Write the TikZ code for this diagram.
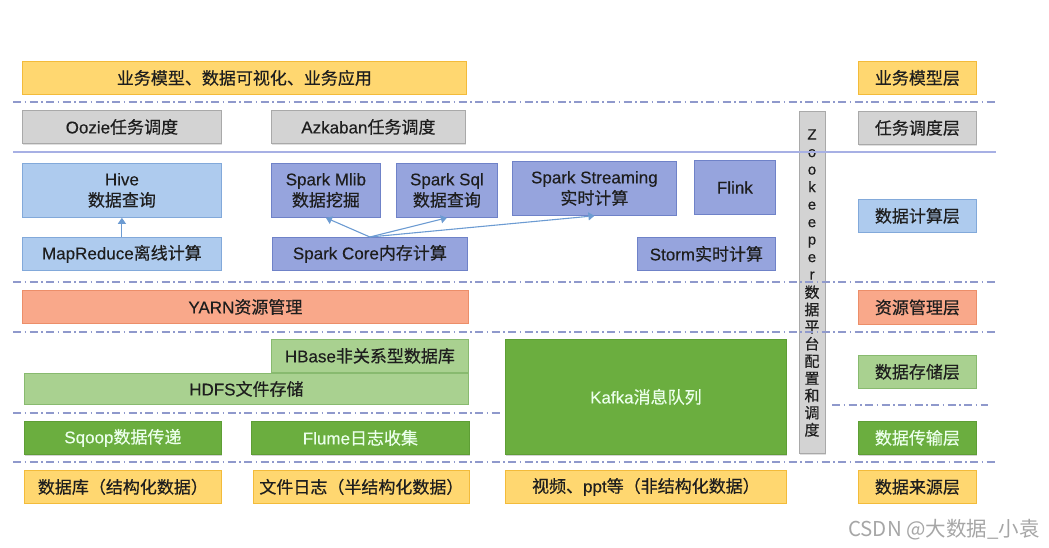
\documentclass[tikz,border=0pt]{standalone}
\usepackage{fontspec}
\setmainfont{Noto Sans CJK SC}[FakeBold=0.5]
\newfontfamily\lat{Liberation Sans}[FakeBold=0.3]
\newfontfamily\wmfont{Noto Sans CJK SC}
\usetikzlibrary{shadows,arrows.meta}
\definecolor{yelfill}{HTML}{FFD770}
\definecolor{yeldraw}{HTML}{F3BB3A}
\definecolor{grfill}{HTML}{D3D3D3}
\definecolor{grdraw}{HTML}{A9A9A9}
\definecolor{lbfill}{HTML}{AECBEE}
\definecolor{lbdraw}{HTML}{82A9DA}
\definecolor{pufill}{HTML}{96A4DD}
\definecolor{pudraw}{HTML}{6F82C8}
\definecolor{orfill}{HTML}{F9A88A}
\definecolor{ordraw}{HTML}{EC8E69}
\definecolor{lgfill}{HTML}{A9D190}
\definecolor{lgdraw}{HTML}{88BA6F}
\definecolor{dgfill}{HTML}{6BAE3F}
\definecolor{dgdraw}{HTML}{5E9E35}
\definecolor{dashc}{HTML}{8F99CC}
\definecolor{solidc}{HTML}{A7B0E4}
\definecolor{arrc}{HTML}{6C9BD2}
\definecolor{txt}{HTML}{1E1E1E}
\begin{document}
\begin{tikzpicture}[x=1pt,y=-1pt,
  box/.style={draw, line width=0.8pt, inner sep=0pt, anchor=north west, align=center,
    text=txt, font=\fontsize{17}{21}\selectfont},
  sz/.style 2 args={minimum width=#1, minimum height=#2},
  yel/.style={box, fill=yelfill, draw=yeldraw},
  gry/.style={box, fill=grfill, draw=grdraw, drop shadow={shadow xshift=0.8pt, shadow yshift=-1.2pt, opacity=0.25}},
  lblue/.style={box, fill=lbfill, draw=lbdraw},
  purp/.style={box, fill=pufill, draw=pudraw},
  oran/.style={box, fill=orfill, draw=ordraw},
  lgrn/.style={box, fill=lgfill, draw=lgdraw},
  dgrn/.style={box, fill=dgfill, draw=dgdraw, text=white!92!green,
    drop shadow={shadow xshift=1pt, shadow yshift=-2pt, opacity=0.35}},
  sepline/.style={draw=dashc, line width=1.3pt, dash pattern=on 8pt off 3.5pt on 1.5pt off 3.5pt},
  conn/.style={draw=arrc, line width=1.1pt, -{Triangle[width=8pt,length=6pt]}}
]
\useasboundingbox (0,0) rectangle (1049,547);

% row 1
\node[yel, sz={444}{33}] (biz) at (22,61) {业务模型、数据可视化、业务应用};
\node[yel, sz={118}{33}] (l1) at (858,61) {业务模型层};
% row 2
\node[gry, sz={199}{33}] (oozie) at (22,110) {{\lat Oozie}任务调度};
\node[gry, sz={194}{33}] (azk) at (271,110) {{\lat Azkaban}任务调度};
\node[gry, sz={118}{33}] (l2) at (858,111) {任务调度层};
% row 3
\node[lblue, sz={199}{54}] (hive) at (22,163) {{\lat Hive}\\数据查询};
\node[lblue, sz={199}{33}] (mr) at (22,237) {{\lat MapReduce}离线计算};
\node[purp, sz={109}{54}] (mlib) at (271,163) {{\lat Spark Mlib}\\数据挖掘};
\node[purp, sz={101}{54}] (sql) at (396,163) {{\lat Spark Sql}\\数据查询};
\node[purp, sz={164}{54}] (stream) at (512,161) {{\lat Spark Streaming}\\实时计算};
\node[purp, sz={81}{54}] (flink) at (694,160) {{\lat Flink}};
\node[purp, sz={195}{33}] (spcore) at (272,237) {{\lat Spark Core}内存计算};
\node[purp, sz={138}{33}] (storm) at (637,237) {{\lat Storm}实时计算};
\node[lblue, sz={118}{33}] (l3) at (858,199) {数据计算层};
% row 4
\node[oran, sz={446}{33}] (yarn) at (22,290) {{\lat YARN}资源管理};
\node[oran, sz={118}{34}] (l4) at (858,290) {资源管理层};
% row 5
\node[lgrn, sz={197}{33}] (hbase) at (271,339) {{\lat HBase}非关系型数据库};
\node[lgrn, sz={444}{31}] (hdfs) at (24,373) {{\lat HDFS}文件存储};
\node[lgrn, sz={118}{33}] (l5) at (858,355) {数据存储层};
% row 6
\node[dgrn, sz={197}{33}] (sqoop) at (24,421) {{\lat Sqoop}数据传递};
\node[dgrn, sz={218}{33}] (flume) at (251,421) {{\lat Flume}日志收集};
\node[dgrn, sz={118}{33}] (l6) at (858,421) {数据传输层};
% row 7
\node[yel, sz={197}{33}] (db) at (24,470) {数据库（结构化数据）};
\node[yel, sz={216}{33}] (logs) at (253,470) {文件日志（半结构化数据）};
\node[yel, sz={281}{33}] (video) at (505,470) {视频、{\lat ppt}等（非结构化数据）};
\node[yel, sz={118}{33}] (l7) at (858,470) {数据来源层};

% zookeeper bar
\node[gry, sz={26}{342}] (zk) at (799,111) {};
\node[align=center, inner sep=0pt, text=txt,
  font=\fontsize{15}{17.5}\selectfont] (zktext) at (812,283)
  {{\lat Z}\\{\lat o}\\{\lat o}\\{\lat k}\\{\lat e}\\{\lat e}\\{\lat p}\\{\lat e}\\{\lat r}\\[0.8pt]
   数\\[-0.3pt]据\\[-0.3pt]平\\[-0.3pt]台\\[-0.3pt]配\\[-0.3pt]置\\[-0.3pt]和\\[-0.3pt]调\\[-0.3pt]度};

% separator lines
\draw[sepline] (13,102) -- (996,102);
\draw[draw=solidc, line width=1.3pt] (13,152) -- (996,152);
\draw[sepline] (13,282) -- (996,282);
\draw[sepline] (13,332) -- (996,332);
\draw[sepline] (13,413) -- (500,413);
\draw[sepline] (832,405) -- (988,405);
\draw[sepline] (13,462) -- (996,462);

% kafka on top
\node[dgrn, sz={281}{115}] (kafka) at (505,339) {{\lat Kafka}消息队列};

% connectors
\draw[conn] (mr.north) -- (hive.south);
\draw[conn] (spcore.north) -- (mlib.south);
\draw[conn] (spcore.north) -- (sql.south);
\draw[conn] (spcore.north) -- (stream.south);

% watermark
\node[text=gray!70, font=\wmfont\fontsize{20.5}{24}\selectfont, inner sep=0pt] (wm) at (944,530) {CSDN @大数据\_小袁};
\end{tikzpicture}
\end{document}
